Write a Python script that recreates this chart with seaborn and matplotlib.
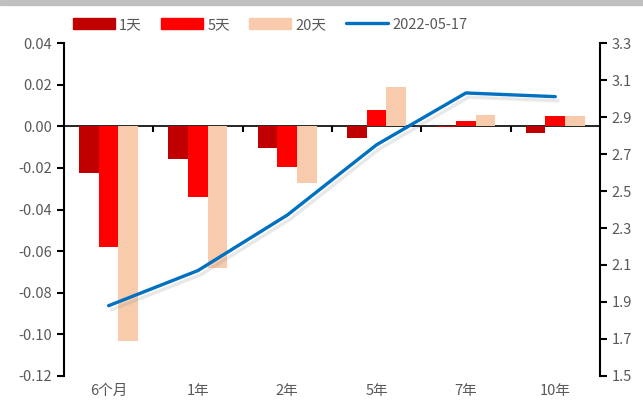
import matplotlib
matplotlib.use("Agg")
import matplotlib.pyplot as plt
import matplotlib.patheffects as pe
import seaborn as sns
import pandas as pd

# tenors and changes (pct points)
tenors = ["6个月", "1年", "2年", "5年", "7年", "10年"]
chg_1d = [-0.0225, -0.0155, -0.0105, -0.0055, -0.0005, -0.003]
chg_5d = [-0.058, -0.034, -0.0197, 0.008, 0.0025, 0.005]
chg_20d = [-0.103, -0.068, -0.0272, 0.019, 0.0055, 0.0048]
# yield curve level
curve_label = "2022-05-17"
curve = [1.88, 2.07, 2.37, 2.75, 3.03, 3.01]

series_names = ["1天", "5天", "20天"]
colors = ["#C00000", "#FF0000", "#F8CBAD"]
line_color = "#0070C0"
text_color = "#595959"

df = pd.DataFrame({
    "tenor": tenors * 3,
    "window": [s for s in series_names for _ in tenors],
    "chg": chg_1d + chg_5d + chg_20d,
})
df_line = pd.DataFrame({"tenor": tenors, "yield": curve})

sns.set_theme(style="white")
plt.rcParams["font.family"] = ["Noto Sans CJK SC", "DejaVu Sans"]

fig = plt.figure(figsize=(6.43, 4.12), dpi=100)
ax = fig.add_axes([0.0995, 0.0874, 0.8335, 0.8082])

sns.barplot(data=df, x="tenor", y="chg", hue="window", order=tenors,
            hue_order=series_names, palette=colors, width=0.66,
            saturation=1, ax=ax, legend=False, linewidth=0)
ax.set_ylim(-0.12, 0.04)
ax.set_yticks([0.04, 0.02, 0.0, -0.02, -0.04, -0.06, -0.08, -0.10, -0.12])
ax.set_yticklabels([f"{v:.2f}" for v in ax.get_yticks()])
ax.set_xlim(-0.5, len(tenors) - 0.5)
ax.set_xlabel("")
ax.set_ylabel("")

# x labels at the bottom, no ticks
ax.tick_params(axis="x", length=0, pad=6, labelsize=10.5, colors=text_color)
ax.tick_params(axis="y", direction="out", length=5, width=1.5, color="black",
               labelsize=10.5, labelcolor=text_color, left=True)
for s in ["top", "bottom", "right"]:
    ax.spines[s].set_visible(False)
ax.spines["left"].set_color("black")
ax.spines["left"].set_linewidth(1.5)

# zero line with boundary ticks pointing down
zero_pos = (0 - (-0.12)) / (0.04 - (-0.12))
sec = ax.secondary_xaxis(zero_pos)
sec.set_xticks([i + 0.5 for i in range(len(tenors) - 1)])
sec.set_xticklabels([])
sec.tick_params(direction="in", length=4, width=1.5, color="black")
for sp in sec.spines.values():
    sp.set_color("black")
    sp.set_linewidth(1.2)

ax2 = ax.twinx()
sns.lineplot(data=df_line, x="tenor", y="yield", color=line_color, lw=2.4,
             ax=ax2, sort=False,
             path_effects=[pe.SimpleLineShadow(offset=(2, -3), alpha=0.18, shadow_color="gray"),
                           pe.Normal()])
ax2.set_ylim(1.5, 3.3)
ax2.set_yticks([1.5, 1.7, 1.9, 2.1, 2.3, 2.5, 2.7, 2.9, 3.1, 3.3])
ax2.set_yticklabels([f"{v:.1f}" for v in ax2.get_yticks()])
ax2.set_ylabel("")
ax2.tick_params(axis="y", direction="out", length=5, width=1.5, color="black",
                labelsize=10.5, labelcolor=text_color, right=True)
for s in ["top", "bottom", "left"]:
    ax2.spines[s].set_visible(False)
ax2.spines["right"].set_color("black")
ax2.spines["right"].set_linewidth(1.5)

# legend
handles = [plt.Rectangle((0, 0), 1, 1, color=c) for c in colors]
handles.append(plt.Line2D([0], [0], color=line_color, lw=2.4))
labels = series_names + [curve_label]
fig.legend(handles, labels, loc="center", bbox_to_anchor=(0.42, 0.94), ncol=4,
           frameon=False, fontsize=10.5, handlelength=2.9, handleheight=0.8,
           columnspacing=1.3, handletextpad=0.3, labelcolor=text_color)

# gray strip at top edge
fig.patches.append(plt.Rectangle((0, 0.988), 1, 0.012, transform=fig.transFigure,
                                 color="#C0C0C0", zorder=0))

fig.savefig("out.png", dpi=100)
